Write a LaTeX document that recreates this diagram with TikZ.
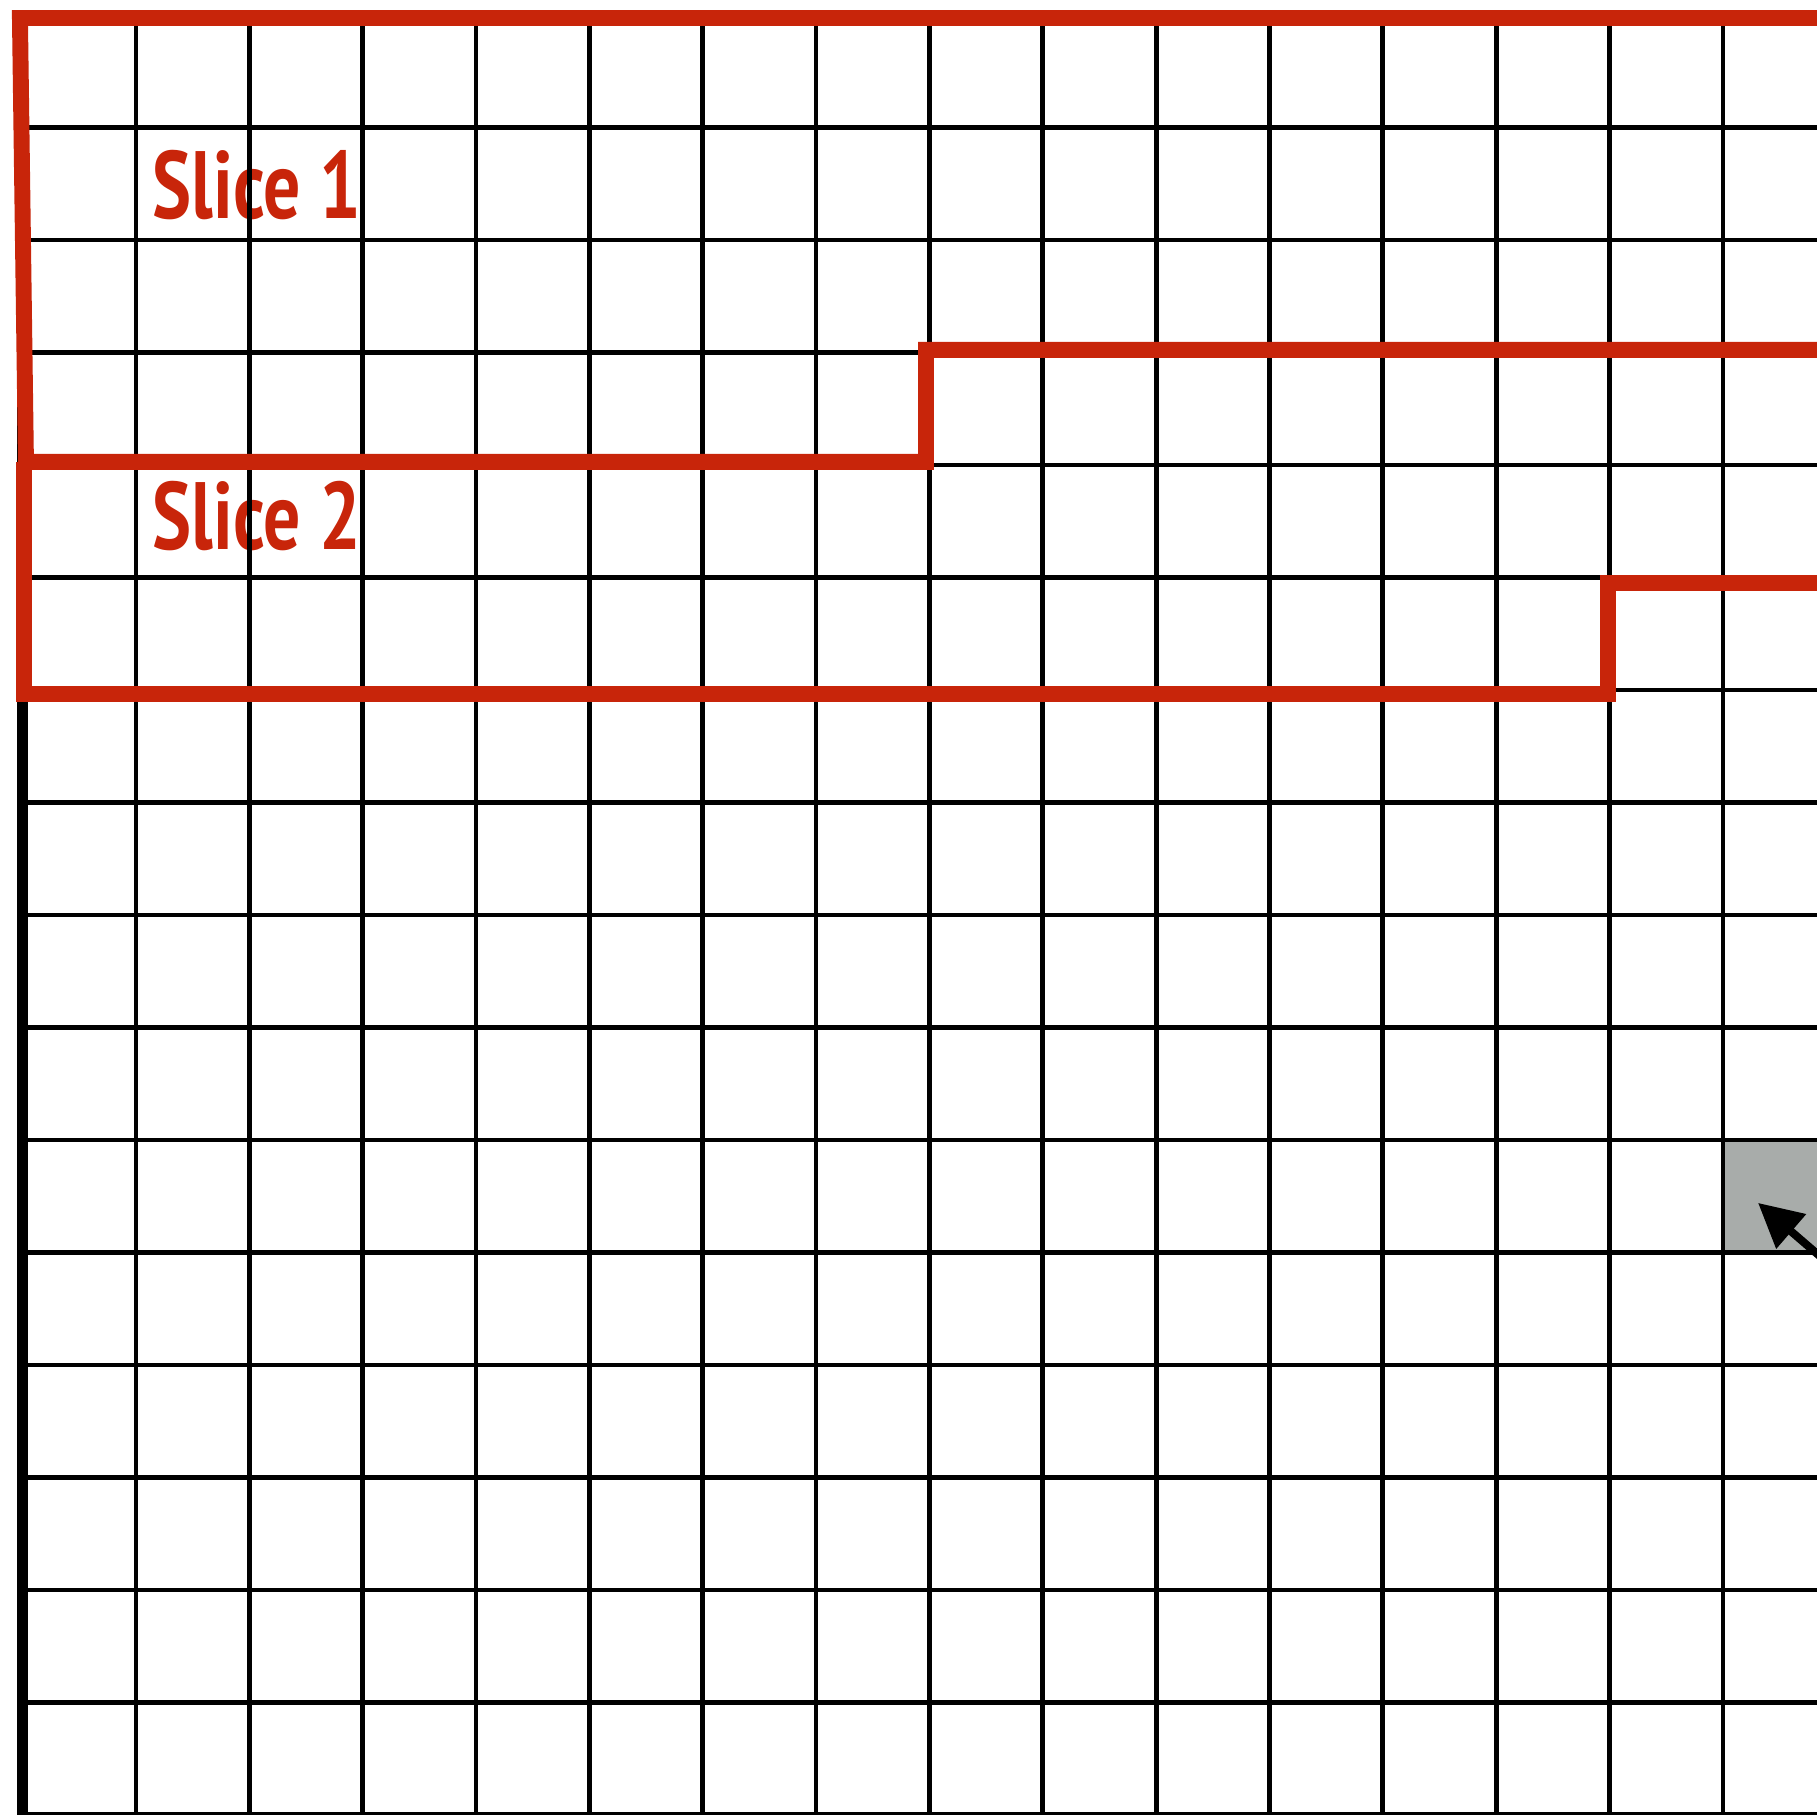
\documentclass[tikz,border=0pt]{standalone}
\usepackage{fontspec}
\usepackage{tikz}
\usetikzlibrary{arrows.meta,positioning,calc}
\newfontfamily\slicefont{PT Sans}[FakeStretch=0.77]
\definecolor{sliceRed}{HTML}{C8250A}
\definecolor{blockGrey}{HTML}{A8ACAA}

\begin{document}
\begin{tikzpicture}[
            x=1cm, y=0.9924cm,
            gridline/.style={line width=1.2pt, black},
            edgeline/.style={line width=2.6pt, black},
            slice/.style={line width=4pt, sliceRed, line join=miter},
            slicelabel/.style={
                    anchor=base west,
                    inner sep=0pt,
                    text=sliceRed,
                    font=\slicefont\bfseries\fontsize{24}{28}\selectfont
                },
            hotcell/.style={fill=blockGrey, minimum width=1cm, minimum height=0.9924cm, inner sep=0pt},
            pointer/.style={-{Triangle[length=11pt,width=11pt]}, line width=2pt}
        ]
        \useasboundingbox (-0.199,0.004) rectangle (15.83,16.133);
        \clip (-0.199,0.004) rectangle (15.83,16.133);

        \node[hotcell] (hot) at (15.5,5.5) {};
        \node[slicelabel] (sliceA) at (1.142,14.187) {Slice 1};
        \node[slicelabel] (sliceB) at (1.142,11.244) {Slice 2};

        \foreach \i in {0,...,16} {
            \draw[gridline] (\i,0) -- (\i,16);
            \draw[gridline] (0,\i) -- (16,\i);
        }
        \draw[edgeline] (0,0) -- (0,16);

        % slice outlines
        \draw[slice] (17,15.973) -- (-0.023,15.973) -- (0.03,12.027) -- (7.97,12.027) -- (7.97,13.022) -- (17,13.022);
        \draw[slice] (0.012,12.027) -- (0.012,9.964) -- (13.99,9.964) -- (13.99,10.951) -- (17,10.951);

        \coordinate (tail) at (16.6,4.32);
        \coordinate (tip) at (15.31,5.44);
        \draw[pointer] (tail) -- (tip);
    \end{tikzpicture}
\end{document}
